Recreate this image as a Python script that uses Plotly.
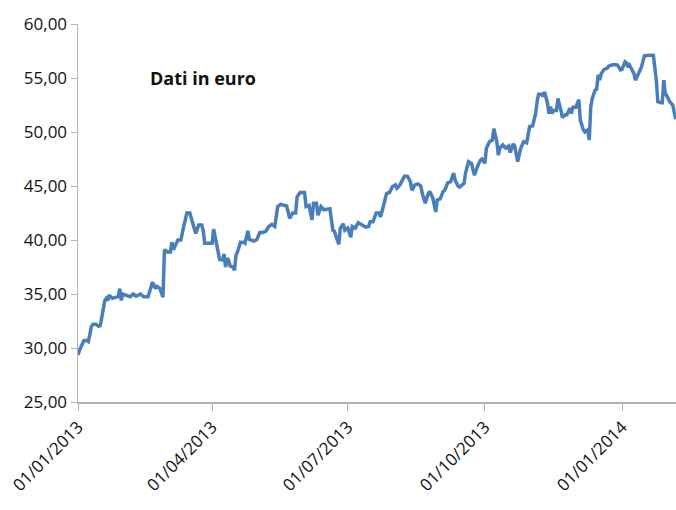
import pandas as pd
import plotly.graph_objects as go

# days since 01/01/2013
days = [0, 1, 4, 6, 7, 9, 10, 12, 14, 15, 18, 19, 20, 21, 23, 25, 27, 28, 29, 30,
        33, 35, 37, 39, 42, 44, 47, 48, 50, 52, 53, 55, 57, 58, 60, 62, 63, 64, 66, 67,
        69, 70, 71, 72, 73, 75, 77, 79, 81, 83, 84, 85, 87, 90, 91, 93, 95, 97, 98, 99,
        100, 101, 102, 104, 105, 106, 107, 109, 111, 112, 114, 115, 118, 120, 122, 124, 126, 128, 130, 132,
        134, 136, 138, 140, 142, 144, 146, 147, 149, 152, 153, 155, 157, 158, 160, 161, 163, 165, 167, 169,
        171, 172, 175, 176, 178, 179, 181, 183, 184, 186, 188, 190, 193, 195, 196, 198, 200, 202, 203, 205,
        207, 209, 211, 213, 214, 216, 218, 219, 221, 223, 224, 226, 228, 230, 231, 233, 235, 236, 238, 240,
        241, 243, 245, 246, 248, 250, 252, 253, 255, 256, 259, 260, 262, 264, 265, 266, 268, 270, 271, 273,
        274, 276, 278, 279, 281, 282, 283, 285, 287, 289, 290, 292, 293, 294, 295, 297, 299, 301, 302, 303,
        305, 307, 308, 309, 311, 312, 313, 315, 316, 317, 318, 319, 321, 322, 324, 325, 327, 328, 330, 331,
        332, 334, 336, 337, 339, 340, 342, 343, 344, 345, 347, 348, 349, 350, 351, 353, 355, 356, 358, 360,
        362, 364, 365, 367, 368, 369, 370, 372, 373, 374, 375, 376, 378, 379, 380, 383, 385, 386, 388, 389,
        391, 392, 393, 394, 396, 397, 399, 400, 401]

prices = [29.35, 29.8, 30.7, 30.7, 30.6, 32.0, 32.2, 32.2, 32.0, 32.1, 34.4, 34.6, 34.4, 34.9, 34.6, 34.7, 34.75, 35.5, 34.4, 35.0,
          34.9, 34.75, 35.0, 34.8, 35.0, 34.75, 34.75, 35.2, 36.1, 35.5, 35.7, 35.5, 34.7, 39.1, 38.9, 38.9, 39.8, 39.1, 39.8, 40.0,
          40.0, 40.8, 41.3, 41.85, 42.5, 42.5, 41.5, 40.6, 41.4, 41.4, 40.9, 39.7, 39.7, 39.7, 41.0, 39.7, 38.2, 38.15, 38.7, 37.5,
          38.3, 38.15, 37.6, 37.5, 37.2, 38.6, 38.9, 39.8, 39.8, 39.7, 40.85, 40.05, 39.9, 40.05, 40.7, 40.7, 40.8, 41.25, 41.45, 41.25,
          43.1, 43.3, 43.2, 43.15, 42.0, 42.5, 42.5, 44.0, 44.4, 44.4, 43.1, 43.2, 41.85, 43.4, 43.4, 42.3, 43.1, 42.8, 42.85, 42.9,
          40.9, 40.8, 39.6, 41.1, 41.5, 40.9, 41.1, 40.25, 41.25, 41.1, 41.6, 41.4, 41.2, 41.25, 41.7, 41.7, 42.5, 42.5, 42.15, 43.2,
          44.3, 44.4, 44.95, 45.1, 44.8, 45.1, 45.65, 45.9, 45.9, 45.4, 44.6, 45.1, 45.2, 45.0, 44.3, 43.4, 44.3, 44.5, 43.9, 42.6,
          43.7, 43.8, 44.5, 44.6, 45.3, 45.4, 46.2, 45.55, 45.0, 44.9, 45.25, 46.2, 47.25, 47.1, 46.5, 46.0, 46.8, 47.4, 47.5, 47.1,
          48.5, 49.1, 49.25, 50.3, 49.1, 47.85, 48.5, 48.8, 48.5, 48.7, 48.1, 48.9, 48.7, 48.0, 47.25, 48.5, 49.1, 49.0, 49.6, 50.5,
          50.55, 51.7, 52.8, 53.5, 53.5, 53.3, 53.7, 52.65, 51.7, 52.35, 51.7, 52.0, 52.0, 53.1, 52.0, 51.35, 51.6, 51.6, 52.2, 51.7,
          52.3, 52.3, 53.0, 51.1, 50.2, 50.0, 50.2, 49.25, 52.3, 53.1, 53.9, 53.95, 55.3, 54.8, 55.4, 55.8, 55.9, 56.1, 56.2, 56.25,
          56.2, 55.75, 55.8, 56.5, 56.4, 56.0, 56.2, 55.6, 55.4, 54.8, 55.2, 55.4, 56.0, 56.7, 57.05, 57.1, 57.1, 57.1, 54.8, 52.8,
          52.7, 52.7, 54.8, 53.6, 53.1, 52.8, 52.5, 52.0, 51.2]

tick_dates = ["2013-01-01", "2013-04-01", "2013-07-01", "2013-10-01", "2014-01-01"]
tick_labels = ["01/01/2013", "01/04/2013", "01/07/2013", "01/10/2013", "01/01/2014"]
y_ticks = [25, 30, 35, 40, 45, 50, 55, 60]

start = pd.Timestamp("2013-01-01")
dates = start + pd.to_timedelta(days, unit="D")
end = start + pd.Timedelta(days=401.2)

fig = go.Figure()
fig.add_trace(go.Scatter(x=dates, y=prices, mode="lines",
                         line=dict(color="#4a7ebb", width=3.5), showlegend=False))

font_family = "Open Sans, DejaVu Sans, sans-serif"
fig.update_layout(
    width=676, height=510,
    margin=dict(l=78, r=0, t=24, b=108, autoexpand=False),
    paper_bgcolor="white", plot_bgcolor="white",
    separators=",.",
    font=dict(family=font_family, size=17, color="#111111"),
    xaxis=dict(range=[start, end], tickvals=tick_dates, ticktext=tick_labels,
               tickangle=-45, showgrid=False, zeroline=False, automargin=False,
               ticklabeloverflow="allow",
               showline=True, linecolor="#b3b3b3", linewidth=1.5,
               ticks="outside", ticklen=7, tickcolor="#b3b3b3",
               tickfont=dict(size=17)),
    yaxis=dict(range=[25, 60], tickvals=y_ticks, tickformat=".2f",
               showgrid=False, zeroline=False, automargin=False,
               ticklabeloverflow="allow",
               showline=True, linecolor="#b3b3b3", linewidth=1.5,
               ticks="outside", ticklen=6, tickcolor="#b3b3b3",
               tickfont=dict(size=17)),
    annotations=[dict(text="<b>Dati in euro</b>", xref="paper", yref="y",
                      x=(148 - 78) / 598, y=55, xanchor="left", yanchor="middle",
                      showarrow=False, font=dict(size=18, color="#111111"))],
)

fig.write_html("out.html",
               config={"displayModeBar": False, "staticPlot": True},
               post_script="document.body.style.margin='0';document.body.style.overflow='hidden';")
